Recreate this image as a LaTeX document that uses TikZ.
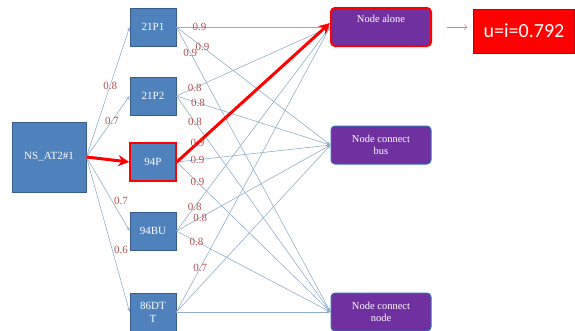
\documentclass[tikz,border=0pt]{standalone}
\usepackage{fontspec}
\setmainfont{Liberation Serif}
\newfontfamily\calibrifont{Carlito}
\usetikzlibrary{arrows.meta}
\definecolor{boxblue}{HTML}{4F81BD}
\definecolor{boxedge}{HTML}{385D8A}
\definecolor{nodepurple}{HTML}{7030A0}
\definecolor{purpleedge}{HTML}{2E75B6}
\definecolor{linkgrey}{HTML}{93AECB}
\definecolor{weightred}{HTML}{B0504D}
\definecolor{hotred}{HTML}{FF0000}
\definecolor{deepred}{HTML}{C00000}

\begin{document}
\begin{tikzpicture}[
  x=1pt,y=-1pt,
  state/.style={draw=boxedge,fill=boxblue,line width=0.8pt,text=white,
    minimum width=46pt,minimum height=38pt,inner sep=1pt,align=center,
    font=\fontsize{11}{13}\selectfont},
  outcome/.style={draw=purpleedge,fill=nodepurple,rounded corners=4pt,
    line width=1pt,text=white,minimum width=100pt,minimum height=38pt,
    align=center,font=\fontsize{10.5}{12.5}\selectfont},
  link/.style={-{Stealth[length=4pt,width=3pt]},linkgrey,line width=0.6pt},
  hot/.style={-{Stealth[length=11pt,width=11pt]},hotred,line width=3pt},
  w/.style={font=\fontsize{11}{11}\selectfont,text=weightred,inner sep=0.5pt}
]
\useasboundingbox (0,0) rectangle (575,330);
\node[state,minimum width=74pt,minimum height=70pt] (ns) at (49,157) {NS\_AT2\#1};
\node[state] (p1) at (153,27) {21P1};
\node[state] (p2) at (153,96) {21P2};
\node[state,draw=hotred,line width=1.5pt] (p94) at (153,162) {94P};
\node[state] (bu) at (153,231) {94BU};
\node[state] (dtt) at (153,312) {86DT\\T};
\node[outcome,draw=hotred,line width=2pt] (alone) at (381,27) {Node alone\\\strut};
\node[outcome] (bus) at (381,145) {Node connect\\bus};
\node[outcome] (cnode) at (381,312) {Node connect\\node};
\node[draw=deepred,fill=hotred,text=white,minimum width=101pt,minimum height=44pt,
  font=\calibrifont\fontsize{20}{20}\selectfont] (res) at (524,31) {u=i=0.792};
% first layer
\draw[link] (ns.east) -- node[w,pos=.55]{0.8} (p1.west);
\draw[link] (ns.east) -- node[w,pos=.59]{0.7} (p2.west);
\draw[link] (ns.east) -- node[w,pos=.6,right=1pt]{0.7} (bu.west);
\draw[link] (ns.east) -- node[w,pos=.6,right=1pt]{0.6} (dtt.west);
% second layer
\draw[link] (p1.east) -- node[w,pos=.15]{0.9} (alone.west);
\draw[link] (p1.east) -- node[w,pos=.17]{0.9} (bus.west);
\draw[link] (p1.east) -- node[w,pos=.09]{0.9} (cnode.west);
\draw[link] (p2.east) -- node[w,pos=.12]{0.8} (alone.west);
\draw[link] (p2.east) -- node[w,pos=.14]{0.8} (bus.west);
\draw[link] (p2.east) -- node[w,pos=.12]{0.8} (cnode.west);
\draw[link] (p94.east) -- node[w,pos=.135]{0.9} (bus.west);
\draw[link] (p94.east) -- node[w,pos=.135]{0.9} (cnode.west);
\draw[link] (bu.east) -- node[w,pos=.12]{0.8} (alone.west);
\draw[link] (bu.east) -- node[w,pos=.155]{0.8} (bus.west);
\draw[link] (bu.east) -- node[w,pos=.13]{0.8} (cnode.west);
\draw[link] (dtt.east) -- node[w,pos=.155]{0.7} (alone.west);
\draw[link] (dtt.east) -- (bus.west);
\draw[link] (dtt.east) -- (cnode.west);
% chosen path
\draw[hot] (ns.east) -- (p94.west);
\draw[hot] (p94.east) -- node[w,pos=.135]{0.9} ([yshift=4pt]alone.west);
\draw[-{To[length=3pt]},weightred!70,line width=0.5pt,shorten <=15pt,shorten >=6pt]
  (alone.east) -- (alone.east -| res.west);
\end{tikzpicture}
\end{document}
